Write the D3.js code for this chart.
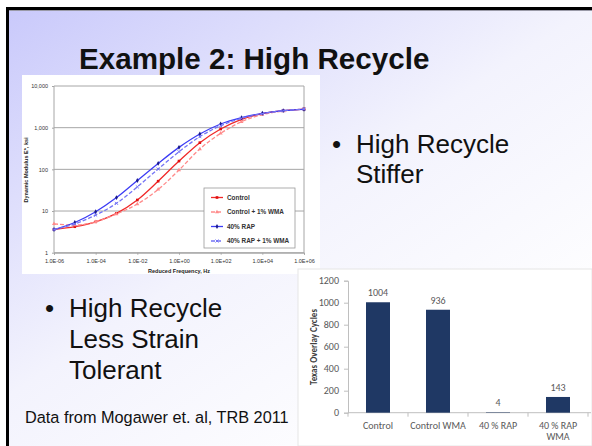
<!DOCTYPE html>
<html>
<head>
<meta charset="utf-8">
<script src="https://cdn.jsdelivr.net/npm/d3@7"></script>
<style>
  html, body { margin: 0; padding: 0; background: #fff; }
  svg { display: block; }
</style>
</head>
<body>
<svg id="slide" width="592" height="446"></svg>
<script>
// reduced frequency, Hz (one point per decade)
const freqs = [1e-6, 1e-5, 1e-4, 1e-3, 1e-2, 1e-1, 1e0, 1e1, 1e2, 1e3, 1e4, 1e5, 1e6];
const xTickValues = [1e-6, 1e-4, 1e-2, 1e0, 1e2, 1e4, 1e6];
const yTickValues = [1, 10, 100, 1000, 10000];

// dynamic modulus E*, ksi
const control = [3.6, 4.2, 5.5, 8.8, 18.4, 52, 158, 437, 930, 1585, 2170, 2560, 2800];
const controlWma = [4.9, 4.6, 5.5, 8.5, 14.7, 33, 96, 308, 730, 1390, 2050, 2500, 2800];
const rap40 = [3.6, 5.3, 9.6, 21, 54, 139, 337, 705, 1225, 1740, 2210, 2560, 2750];
const rap40Wma = [3.6, 4.9, 8.0, 15.3, 38, 102, 265, 608, 1117, 1675, 2170, 2560, 2800];

const seriesNames = ['Control', 'Control + 1% WMA', '40% RAP', '40% RAP + 1% WMA'];

// bar chart: Texas overlay cycles
const barCategories = ['Control', 'Control WMA', '40 % RAP', '40 % RAP WMA'];
const barLabels = [['Control'], ['Control WMA'], ['40 % RAP'], ['40 % RAP', 'WMA']];
const barValues = [1004, 936, 4, 143];
const barTicks = [0, 200, 400, 600, 800, 1000, 1200];

const svg = d3.select('#slide');

// ---- slide background ----
const defs = svg.append('defs');
const grad = defs.append('linearGradient')
  .attr('id', 'bg')
  .attr('x1', 0).attr('y1', 0)
  .attr('x2', 0.8).attr('y2', 0.9);
grad.append('stop').attr('offset', 0).attr('stop-color', '#c9c9fb');
grad.append('stop').attr('offset', 0.55).attr('stop-color', '#f3f3fd');
grad.append('stop').attr('offset', 1).attr('stop-color', '#ffffff');

svg.append('rect').attr('x', 7).attr('y', 9).attr('width', 585).attr('height', 437)
  .attr('fill', 'url(#bg)');
svg.append('rect').attr('x', 6).attr('y', 7).attr('width', 586).attr('height', 3).attr('fill', '#000');
svg.append('rect').attr('x', 6).attr('y', 7).attr('width', 3).attr('height', 439).attr('fill', '#000');
svg.append('line').attr('x1', 9).attr('x2', 592).attr('y1', 10.5).attr('y2', 10.5)
  .attr('stroke', '#9a9aa8').attr('stroke-width', 1);

svg.append('text')
  .attr('x', 79).attr('y', 69)
  .attr('font-family', 'Liberation Sans, Arial, sans-serif')
  .attr('font-weight', 'bold')
  .attr('font-size', 29.6)
  .attr('fill', '#111')
  .text('Example 2: High Recycle');

// ---- line chart (log-log) ----
const lc = svg.append('g');
lc.append('rect').attr('x', 22).attr('y', 75).attr('width', 298).attr('height', 199).attr('fill', '#fff');

const x = d3.scaleLog().domain([1e-6, 1e6]).range([54, 304]);
const y = d3.scaleLog().domain([1, 10000]).range([252.7, 86]);

// gridlines
lc.append('g').selectAll('line')
  .data(yTickValues)
  .join('line')
  .attr('x1', x.range()[0]).attr('x2', x.range()[1])
  .attr('y1', d => y(d)).attr('y2', d => y(d))
  .attr('stroke', '#a6a6a6').attr('stroke-width', 1);
lc.append('line')
  .attr('x1', x.range()[0]).attr('x2', x.range()[0])
  .attr('y1', y.range()[0]).attr('y2', y.range()[1])
  .attr('stroke', '#a6a6a6');
lc.append('line')
  .attr('x1', x.range()[1]).attr('x2', x.range()[1])
  .attr('y1', y.range()[0]).attr('y2', y.range()[1])
  .attr('stroke', '#a6a6a6');

const fmtX = d => {
  const e = Math.round(Math.log10(d));
  return '1.0E' + (e < 0 ? '-' : '+') + String(Math.abs(e)).padStart(2, '0');
};

const xAxis = d3.axisBottom(x).tickValues(xTickValues).tickFormat(fmtX).tickSize(2).tickPadding(4);
const gx = lc.append('g').attr('transform', 'translate(0,' + y.range()[0] + ')').call(xAxis);
gx.select('.domain').attr('stroke', '#a6a6a6');
gx.selectAll('.tick line').attr('stroke', '#a6a6a6');
gx.selectAll('text').attr('font-size', 5.5).attr('font-family', 'Liberation Sans, Arial, sans-serif').attr('fill', '#333');

const yAxis = d3.axisLeft(y).tickValues(yTickValues).tickFormat(d3.format(',')).tickSize(2).tickPadding(4);
const gy = lc.append('g').attr('transform', 'translate(' + x.range()[0] + ',0)').call(yAxis);
gy.select('.domain').remove();
gy.selectAll('.tick line').attr('stroke', '#a6a6a6');
gy.selectAll('text').attr('font-size', 5.5).attr('font-family', 'Liberation Sans, Arial, sans-serif').attr('fill', '#333');

lc.append('text')
  .attr('x', 179).attr('y', 273)
  .attr('text-anchor', 'middle')
  .attr('font-size', 5.5).attr('font-weight', 'bold')
  .attr('font-family', 'Liberation Sans, Arial, sans-serif').attr('fill', '#222')
  .text('Reduced Frequency, Hz');
lc.append('text')
  .attr('transform', 'translate(28,170) rotate(-90)')
  .attr('text-anchor', 'middle')
  .attr('font-size', 5.5).attr('font-weight', 'bold')
  .attr('font-family', 'Liberation Sans, Arial, sans-serif').attr('fill', '#222')
  .text('Dynamic Modulus E*, ksi');

const series = [
  { name: seriesNames[0], values: control, color: '#f02828', dash: null, marker: 'square', mcolor: '#e01010' },
  { name: seriesNames[1], values: controlWma, color: '#ff8a8a', dash: '4,2', marker: 'triangle', mcolor: '#ff8a8a' },
  { name: seriesNames[2], values: rap40, color: '#3c3cf5', dash: null, marker: 'diamond', mcolor: '#1a1a8c' },
  { name: seriesNames[3], values: rap40Wma, color: '#7474f5', dash: '4,2', marker: 'cross', mcolor: '#7474f5' }
];

const line = d3.line()
  .x(d => x(d[0]))
  .y(d => y(d[1]))
  .curve(d3.curveMonotoneX);

const symbolOf = m => ({
  square: d3.symbolSquare, triangle: d3.symbolTriangle, diamond: d3.symbolDiamond, cross: d3.symbolX
})[m];

series.forEach(s => {
  const pts = freqs.map((f, i) => [f, s.values[i]]);
  lc.append('path')
    .attr('d', line(pts))
    .attr('fill', 'none')
    .attr('stroke', s.color)
    .attr('stroke-width', 1.3)
    .attr('stroke-dasharray', s.dash);
  lc.append('g').selectAll('path')
    .data(pts)
    .join('path')
    .attr('transform', d => 'translate(' + x(d[0]) + ',' + y(d[1]) + ')')
    .attr('d', d3.symbol().type(symbolOf(s.marker)).size(7))
    .attr('fill', s.marker === 'cross' ? 'none' : s.mcolor)
    .attr('stroke', s.marker === 'cross' ? s.mcolor : 'none');
});

// legend
const lg = lc.append('g').attr('transform', 'translate(204,188)');
lg.append('rect').attr('width', 91).attr('height', 60)
  .attr('fill', '#fff').attr('stroke', '#9a9a9a').attr('stroke-width', 0.8);
series.forEach((s, i) => {
  const yy = 9.5 + i * 14.5;
  lg.append('line').attr('x1', 7).attr('x2', 19).attr('y1', yy).attr('y2', yy)
    .attr('stroke', s.color).attr('stroke-width', 1.3).attr('stroke-dasharray', s.dash);
  lg.append('path').attr('transform', 'translate(13,' + yy + ')')
    .attr('d', d3.symbol().type(symbolOf(s.marker)).size(7))
    .attr('fill', s.marker === 'cross' ? 'none' : s.mcolor)
    .attr('stroke', s.marker === 'cross' ? s.mcolor : 'none');
  lg.append('text').attr('x', 23).attr('y', yy + 2.2)
    .attr('font-size', 6.4).attr('font-weight', 'bold')
    .attr('font-family', 'Liberation Sans, Arial, sans-serif').attr('fill', '#333')
    .text(s.name);
});

// ---- bullets ----
const bulletFont = 'Liberation Sans, Arial, sans-serif';
function bullet(bx, tx, lines, y0, lh) {
  svg.append('text').attr('x', bx).attr('y', y0)
    .attr('font-family', bulletFont).attr('font-size', 26).attr('fill', '#111')
    .text('\u2022');
  lines.forEach((t, i) => {
    svg.append('text').attr('x', tx).attr('y', y0 + i * lh)
      .attr('font-family', bulletFont).attr('font-size', 26).attr('fill', '#111')
      .text(t);
  });
}
bullet(332, 356, ['High Recycle', 'Stiffer'], 153, 30);
bullet(45, 69, ['High Recycle', 'Less Strain', 'Tolerant'], 317, 31);

svg.append('text').attr('x', 25).attr('y', 423)
  .attr('font-family', bulletFont).attr('font-size', 16.3).attr('fill', '#111')
  .text('Data from Mogawer et. al, TRB 2011');

// ---- bar chart ----
const bc = svg.append('g');
bc.append('rect').attr('x', 298).attr('y', 269).attr('width', 294).attr('height', 177).attr('fill', '#fff');
bc.append('rect').attr('x', 298).attr('y', 269).attr('width', 294).attr('height', 177)
  .attr('fill', 'none').attr('stroke', '#e6e6e6');

const bx = d3.scaleBand().domain(barCategories).range([348, 588]).paddingInner(0.6).paddingOuter(0.3);
const by = d3.scaleLinear().domain([0, 1200]).range([412.7, 280.7]);
const barFont = 'Carlito, Lato, Open Sans, sans-serif';

const gby = bc.append('g').attr('transform', 'translate(348,0)')
  .call(d3.axisLeft(by).tickValues(barTicks).tickFormat(d3.format('d')).tickSize(4).tickPadding(5));
gby.select('.domain').attr('stroke', '#bfbfbf');
gby.selectAll('.tick line').attr('stroke', '#bfbfbf');
gby.selectAll('text').attr('font-size', 10).attr('font-family', barFont).attr('fill', '#595959');

// x axis line with ticks at category boundaries
const step = bx.step();
bc.append('line').attr('x1', 348).attr('x2', 591).attr('y1', by(0)).attr('y2', by(0))
  .attr('stroke', '#bfbfbf');
bc.append('g').selectAll('line')
  .data(d3.range(barCategories.length + 1))
  .join('line')
  .attr('x1', i => 348 + i * step).attr('x2', i => 348 + i * step)
  .attr('y1', by(0)).attr('y2', by(0) + 4)
  .attr('stroke', '#bfbfbf');

bc.append('g').selectAll('rect')
  .data(barValues)
  .join('rect')
  .attr('x', (d, i) => bx(barCategories[i]))
  .attr('y', d => by(d))
  .attr('width', bx.bandwidth())
  .attr('height', d => by(0) - by(d))
  .attr('fill', '#1f3864');

bc.append('g').selectAll('text')
  .data(barValues)
  .join('text')
  .attr('x', (d, i) => bx(barCategories[i]) + bx.bandwidth() / 2)
  .attr('y', d => by(d) - 6)
  .attr('text-anchor', 'middle')
  .attr('font-size', 10).attr('font-family', barFont).attr('fill', '#595959')
  .text(d => d);

barLabels.forEach((lines, i) => {
  lines.forEach((t, j) => {
    bc.append('text')
      .attr('x', bx(barCategories[i]) + bx.bandwidth() / 2)
      .attr('y', 428.5 + j * 11.5)
      .attr('text-anchor', 'middle')
      .attr('font-size', 10).attr('font-family', barFont).attr('fill', '#595959')
      .text(t);
  });
});

bc.append('text')
  .attr('transform', 'translate(317,347) rotate(-90)')
  .attr('text-anchor', 'middle')
  .attr('font-size', 9).attr('font-weight', 'bold')
  .attr('font-family', barFont).attr('fill', '#404040')
  .text('Texas Overlay Cycles');
</script>
</body>
</html>
